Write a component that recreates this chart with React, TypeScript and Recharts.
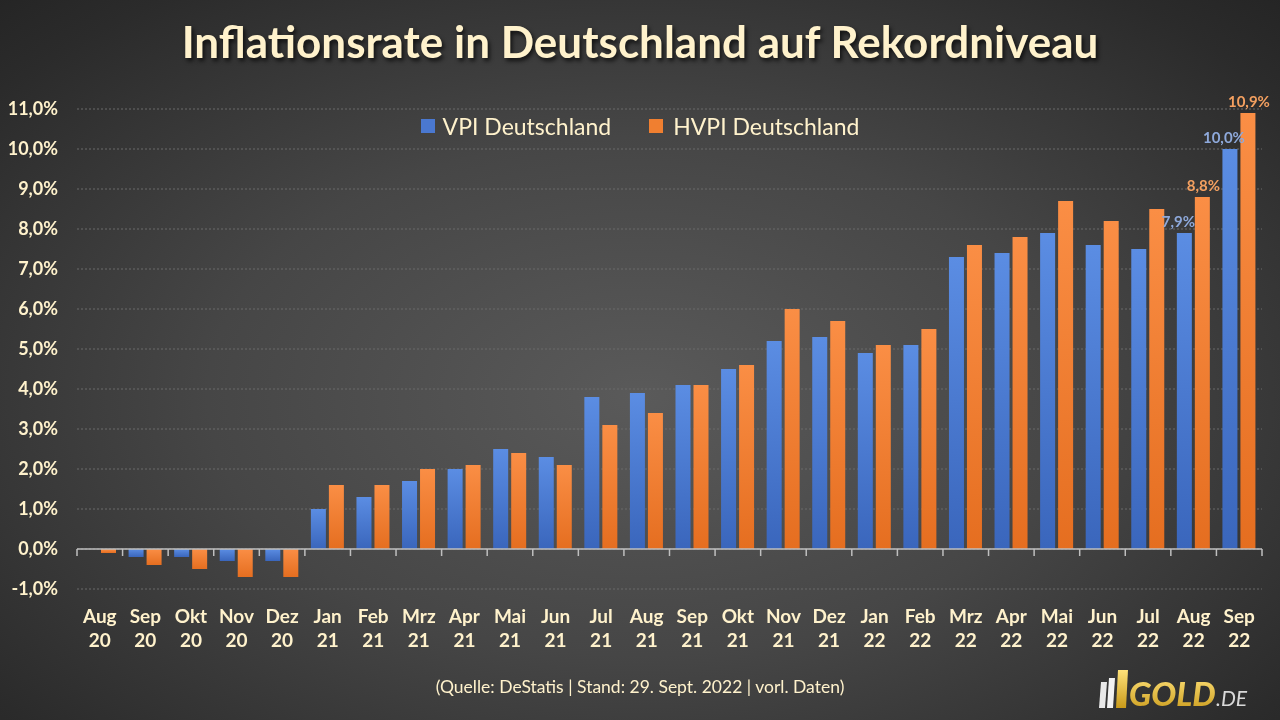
import React from 'react';
import { BarChart, Bar, XAxis, YAxis, CartesianGrid, ReferenceLine, LabelList, Legend } from 'recharts';

const months = ['Aug 20', 'Sep 20', 'Okt 20', 'Nov 20', 'Dez 20', 'Jan 21', 'Feb 21', 'Mrz 21', 'Apr 21', 'Mai 21', 'Jun 21', 'Jul 21', 'Aug 21', 'Sep 21', 'Okt 21', 'Nov 21', 'Dez 21', 'Jan 22', 'Feb 22', 'Mrz 22', 'Apr 22', 'Mai 22', 'Jun 22', 'Jul 22', 'Aug 22', 'Sep 22'];
const vpi = [0.0, -0.2, -0.2, -0.3, -0.3, 1.0, 1.3, 1.7, 2.0, 2.5, 2.3, 3.8, 3.9, 4.1, 4.5, 5.2, 5.3, 4.9, 5.1, 7.3, 7.4, 7.9, 7.6, 7.5, 7.9, 10.0];
const hvpi = [-0.1, -0.4, -0.5, -0.7, -0.7, 1.6, 1.6, 2.0, 2.1, 2.4, 2.1, 3.1, 3.4, 4.1, 4.6, 6.0, 5.7, 5.1, 5.5, 7.6, 7.8, 8.7, 8.2, 8.5, 8.8, 10.9];
const yTicks = [-1, 0, 1, 2, 3, 4, 5, 6, 7, 8, 9, 10, 11];
const labelledMonths = ['Aug 22', 'Sep 22'];

const fmt = (v: number) => v.toFixed(1).replace('.', ',') + '%';

const data = months.map((m, i) => ({
  month: m,
  vpi: vpi[i],
  hvpi: hvpi[i],
  vpiLabel: labelledMonths.includes(m) ? fmt(vpi[i]) : '',
  hvpiLabel: labelledMonths.includes(m) ? fmt(hvpi[i]) : '',
}));

const CREAM = '#FFF2CC';
const FONT = 'Lato, "Open Sans", sans-serif';

const XTick = (props: any) => {
  const { x, y, payload } = props;
  const [m, yr] = String(payload.value).split(' ');
  return (
    <g>
      <text x={x} y={y + 34} textAnchor="middle" fill={CREAM} fontFamily={FONT} fontWeight={700} fontSize={19}>{m}</text>
      <text x={x} y={y + 58} textAnchor="middle" fill={CREAM} fontFamily={FONT} fontWeight={700} fontSize={19}>{yr}</text>
    </g>
  );
};

const ZeroAxis = (props: any) => {
  const { x1, y1, x2 } = props;
  const n = months.length;
  const step = (x2 - x1) / n;
  const ticks = [];
  for (let i = 0; i <= n; i++) {
    const tx = x1 + step * i;
    ticks.push(<line key={i} x1={tx} x2={tx} y1={y1} y2={y1 + 7} stroke="#BFBFBF" strokeWidth={1.5} />);
  }
  return (
    <g>
      <line x1={x1} x2={x2} y1={y1} y2={y1} stroke="#BFBFBF" strokeWidth={1.5} />
      {ticks}
    </g>
  );
};

const makeLabel = (color: string, dx: number) => (props: any) => {
  const { x, y, width, value } = props;
  if (!value) return null;
  return (
    <text x={x + width / 2 + dx} y={y - 6} textAnchor="middle" fill={color} fontFamily={FONT} fontWeight={700} fontSize={15}>{value}</text>
  );
};

const LegendContent = () => (
  <div style={{ display: 'flex', justifyContent: 'center', gap: 38, fontFamily: FONT, fontSize: 23, color: CREAM }}>
    <div style={{ display: 'flex', alignItems: 'center' }}>
      <span style={{ display: 'inline-block', width: 14, height: 14, background: '#4A78D0', marginRight: 8 }} />
      VPI Deutschland
    </div>
    <div style={{ display: 'flex', alignItems: 'center' }}>
      <span style={{ display: 'inline-block', width: 14, height: 14, background: '#F07F30', marginRight: 10 }} />
      HVPI Deutschland
    </div>
  </div>
);

export default function App() {
  return (
    <div style={{ position: 'fixed', top: 0, left: 0, width: 1280, height: 720, overflow: 'hidden', background: 'radial-gradient(ellipse 75% 80% at 50% 55%, #5a5a5a 0%, #464646 45%, #2b2b2b 85%, #232323 100%)' }}>
      <div style={{ position: 'absolute', top: 15, left: 0, width: 1280, textAlign: 'center', fontFamily: FONT, fontWeight: 700, fontSize: 44, color: CREAM, textShadow: '2px 3px 4px rgba(0,0,0,0.7)' }}>
        Inflationsrate in Deutschland auf Rekordniveau
      </div>
      <BarChart width={1280} height={720} data={data} margin={{ top: 109, right: 18, bottom: 0, left: 0 }} barSize={15} barGap={3}>
        <defs>
          <linearGradient id="gBlue" x1="0" y1="0" x2="0" y2="1">
            <stop offset="0%" stopColor="#5B8DE3" />
            <stop offset="100%" stopColor="#3A66BC" />
          </linearGradient>
          <linearGradient id="gOrange" x1="0" y1="0" x2="0" y2="1">
            <stop offset="0%" stopColor="#FA8E45" />
            <stop offset="100%" stopColor="#E56E20" />
          </linearGradient>
        </defs>
        <CartesianGrid vertical={false} stroke="#6A6A6A" strokeDasharray="2 2" />
        <XAxis dataKey="month" interval={0} axisLine={false} tickLine={false} tickSize={0} tickMargin={0} height={131} tick={<XTick />} />
        <YAxis domain={[-1, 11]} ticks={yTicks} interval={0} width={77} axisLine={false} tickLine={false} tickSize={0} tickMargin={19} tickFormatter={(v: number) => fmt(v)} tick={{ fill: CREAM, fontFamily: FONT, fontWeight: 700, fontSize: 18 }} />
        <Legend verticalAlign="middle" content={<LegendContent />} wrapperStyle={{ position: 'absolute', top: 112, left: 0, width: 1280 }} />
        <ReferenceLine y={0} shape={<ZeroAxis />} />
        <Bar dataKey="vpi" name="VPI Deutschland" fill="url(#gBlue)" isAnimationActive={false}>
          <LabelList dataKey="vpiLabel" content={makeLabel('#8EA9DB', -6)} />
        </Bar>
        <Bar dataKey="hvpi" name="HVPI Deutschland" fill="url(#gOrange)" isAnimationActive={false}>
          <LabelList dataKey="hvpiLabel" content={makeLabel('#F4A060', 1)} />
        </Bar>
      </BarChart>
      <div style={{ position: 'absolute', top: 676, left: 0, width: 1280, textAlign: 'center', fontFamily: FONT, fontSize: 17.5, color: CREAM }}>
        (Quelle: DeStatis | Stand: 29. Sept. 2022 | vorl. Daten)
      </div>
      <svg width={170} height={44} style={{ position: 'absolute', left: 1095, top: 668 }}>
        <defs>
          <linearGradient id="gGold" x1="0" y1="0" x2="0" y2="1">
            <stop offset="0%" stopColor="#FFE27A" />
            <stop offset="100%" stopColor="#C99A1A" />
          </linearGradient>
        </defs>
        <polygon points="6,14 12,14 10,40 4,40" fill="#E8E8E8" />
        <polygon points="14,10 20,10 18,40 12,40" fill="#F2F2F2" />
        <polygon points="23,2 33,2 31,40 21,40" fill="url(#gGold)" />
        <text x={34} y={38} fontFamily={FONT} fontStyle="italic" fontWeight={900} fontSize={33} fill="url(#gGold)">GOLD</text>
        <text x={121} y={38} fontFamily={FONT} fontStyle="italic" fontSize={21} fill="#D8D8D8">.DE</text>
      </svg>
    </div>
  );
}
